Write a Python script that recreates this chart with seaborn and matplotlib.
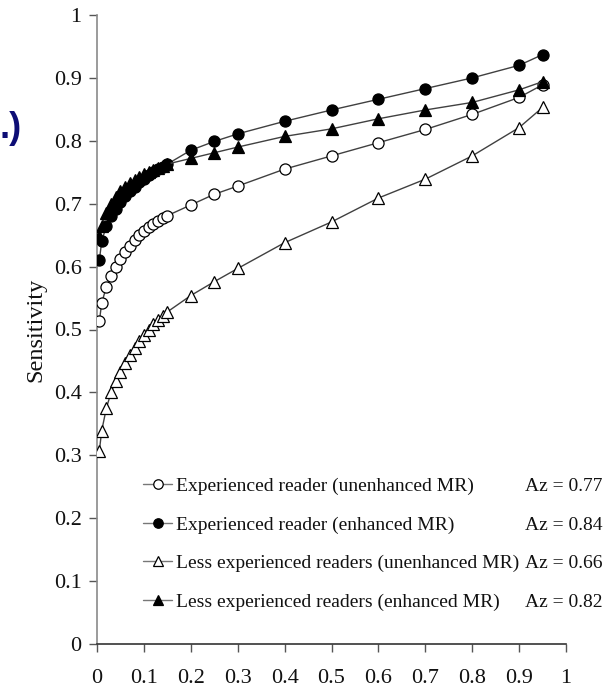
import numpy as np
import pandas as pd
import matplotlib
matplotlib.use("Agg")
import matplotlib.pyplot as plt
import seaborn as sns

# False positive fraction (x) shared by all curves
fpf = [0.005, 0.01, 0.02, 0.03, 0.04, 0.05, 0.06, 0.07, 0.08, 0.09, 0.10,
       0.11, 0.12, 0.13, 0.14, 0.15, 0.2, 0.25, 0.3, 0.4, 0.5, 0.6, 0.7,
       0.8, 0.9, 0.95]

exp_unenh = [0.513, 0.542, 0.568, 0.585, 0.600, 0.612, 0.623, 0.633, 0.642,
             0.650, 0.657, 0.663, 0.668, 0.673, 0.677, 0.681, 0.698, 0.715,
             0.728, 0.755, 0.776, 0.797, 0.818, 0.842, 0.869, 0.889]
exp_enh = [0.610, 0.640, 0.665, 0.680, 0.692, 0.703, 0.712, 0.720, 0.727,
           0.734, 0.740, 0.745, 0.750, 0.755, 0.759, 0.763, 0.785, 0.799,
           0.811, 0.831, 0.849, 0.866, 0.883, 0.900, 0.920, 0.937]
less_unenh = [0.307, 0.339, 0.375, 0.400, 0.418, 0.433, 0.447, 0.460, 0.471,
              0.482, 0.492, 0.500, 0.508, 0.515, 0.522, 0.528, 0.554, 0.576,
              0.597, 0.638, 0.671, 0.709, 0.739, 0.776, 0.821, 0.853]
less_enh = [0.648, 0.665, 0.685, 0.700, 0.710, 0.720, 0.727, 0.733, 0.738,
            0.743, 0.747, 0.751, 0.754, 0.757, 0.760, 0.763, 0.772, 0.781,
            0.790, 0.807, 0.819, 0.835, 0.849, 0.861, 0.881, 0.894]

labels = ["Experienced reader (unenhanced MR)",
          "Experienced reader (enhanced MR)",
          "Less experienced readers (unenhanced MR)",
          "Less experienced readers (enhanced MR)"]
az_labels = ["Az = 0.77", "Az = 0.84", "Az = 0.66", "Az = 0.82"]
markers = ["o", "o", "^", "^"]
faces = ["white", "black", "white", "black"]
series = [exp_unenh, exp_enh, less_unenh, less_enh]

xticks = [0, 0.1, 0.2, 0.3, 0.4, 0.5, 0.6, 0.7, 0.8, 0.9, 1]
xticklabels = ["0", "0.1", "0.2", "0.3", "0.4", "0.5", "0.6", "0.7", "0.8", "0.9", "1"]
yticks = [0, 0.1, 0.2, 0.3, 0.4, 0.5, 0.6, 0.7, 0.8, 0.9, 1]
yticklabels = ["0", "0.1", "0.2", "0.3", "0.4", "0.5", "0.6", "0.7", "0.8", "0.9", "1"]

sns.set_theme(style="ticks")
plt.rcParams["font.family"] = ["Liberation Serif", "DejaVu Serif"]

fig = plt.figure(figsize=(6.14, 6.94), dpi=100)
ax = fig.add_axes([97 / 614, 1 - 644 / 694, 469 / 614, 629 / 694])

for ys, lab, mk, fc in zip(series, labels, markers, faces):
    df = pd.DataFrame({"x": fpf, "y": ys})
    sns.lineplot(data=df, x="x", y="y", ax=ax, color="#404040", lw=1.0,
                 marker=mk, markersize=8, markerfacecolor=fc,
                 markeredgecolor="black", markeredgewidth=0.9, label=lab,
                 zorder=3)

ax.set_xlim(0, 1)
ax.set_ylim(0, 1)
ax.set_xticks(xticks)
ax.set_xticklabels(xticklabels)
ax.set_yticks(yticks)
ax.set_yticklabels(yticklabels)
ax.set_xlabel("")
ax.set_ylabel("Sensitivity", fontsize=17.5, labelpad=5.5, color="#111111")
ax.tick_params(axis="both", labelsize=16, length=6, width=1, colors="#555555",
               labelcolor="#111111", direction="out")
ax.tick_params(axis="x", pad=12)
ax.tick_params(axis="y", pad=5)
sns.despine(ax=ax)
ax.spines["left"].set_color("#8a8a8a")
ax.spines["left"].set_linewidth(1.2)
ax.spines["bottom"].set_color("#333333")
ax.spines["bottom"].set_linewidth(1.2)

leg = ax.legend(loc="upper left", bbox_to_anchor=(0.098, 0.265), frameon=False,
                borderaxespad=0, borderpad=0, handlelength=1.5,
                handletextpad=0.2, labelspacing=1.08, fontsize=14,
                markerscale=0.85)
for h in leg.legend_handles:
    h.set_color("#777777")
    h.set_markeredgecolor("black")
for t in leg.get_texts():
    t.set_color("#111111")

fig.canvas.draw()
inv = ax.transData.inverted()
for t, az in zip(leg.get_texts(), az_labels):
    bb = t.get_window_extent()
    yc = inv.transform((0, (bb.y0 + bb.y1) / 2))[1]
    ax.text(0.9126, yc, az, fontsize=14, va="center", ha="left",
            color="#111111", clip_on=False)

fig.text(0.0, 1 - 138 / 694, ".)", fontsize=26, fontweight="bold",
         color="#0d0d75", family=["Liberation Sans", "DejaVu Sans"],
         ha="left", va="baseline")

fig.savefig("out.png", dpi=100)
